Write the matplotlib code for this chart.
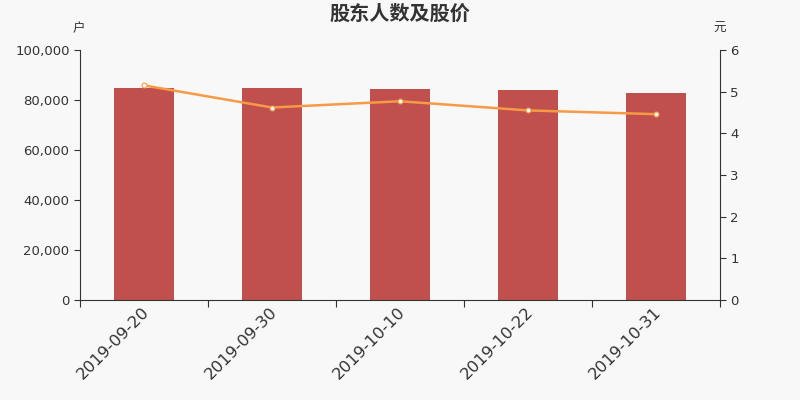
import matplotlib.pyplot as plt
import numpy as np

plt.rcParams['font.family'] = ['DejaVu Sans', 'Noto Sans CJK SC']

dates = ['2019-09-20', '2019-09-30', '2019-10-10', '2019-10-22', '2019-10-31']
holders = [85000, 84700, 84400, 83900, 82800]
price = [5.15, 4.62, 4.77, 4.55, 4.46]

bg = '#f8f8f8'
fig = plt.figure(figsize=(8, 4), dpi=100, facecolor=bg)
ax = fig.add_axes([0.1, 0.25, 0.8, 0.625], facecolor=bg)
ax2 = ax.twinx()

x = np.arange(len(dates))
ax.bar(x, holders, width=0.47, color='#c0504d', zorder=2)
ax2.plot(x, price, color='#f79a46', lw=1.8, marker='o', ms=3.5,
         mfc='white', mec='#f79a46', mew=0.8, zorder=3)

ax.set_xlim(-0.5, len(dates) - 0.5)
ax.set_ylim(0, 100000)
ax2.set_ylim(0, 6)
ax.set_yticks(np.arange(0, 100001, 20000))
ax.set_yticklabels(['{:,}'.format(v) for v in range(0, 100001, 20000)])
ax2.set_yticks(range(0, 7))

ax.set_xticks(np.arange(-0.5, len(dates), 1))
ax.set_xticklabels([])
ax.set_xticks(x + 0.02, minor=True)
ax.set_xticklabels(dates, minor=True, rotation=45, ha='right', va='center',
                   rotation_mode='anchor', fontsize=11.8, color='#333333')
ax.tick_params(axis='x', which='minor', length=0, pad=7)
ax.tick_params(axis='x', which='major', length=5, color='#333333')

for a in (ax, ax2):
    a.spines['top'].set_visible(False)
    a.tick_params(axis='y', labelsize=9.5, colors='#333333', length=4)
ax.spines['right'].set_visible(False)
ax2.spines['left'].set_visible(False)
ax2.spines['bottom'].set_visible(False)
for a, s in ((ax, 'left'), (ax, 'bottom'), (ax2, 'right')):
    a.spines[s].set_color('#333333')

cjk = ['Noto Sans CJK SC', 'DejaVu Sans']
fig.text(0.5, 0.967, '股东人数及股价', ha='center', va='center',
         fontsize=14.5, fontweight='bold', color='#333333', family=cjk)
fig.text(0.098, 0.928, '户', ha='center', va='center', fontsize=9,
         color='#333333', family=cjk)
fig.text(0.9, 0.928, '元', ha='center', va='center', fontsize=9,
         color='#333333', family=cjk)

fig.savefig('out.png', dpi=100, facecolor=bg)
